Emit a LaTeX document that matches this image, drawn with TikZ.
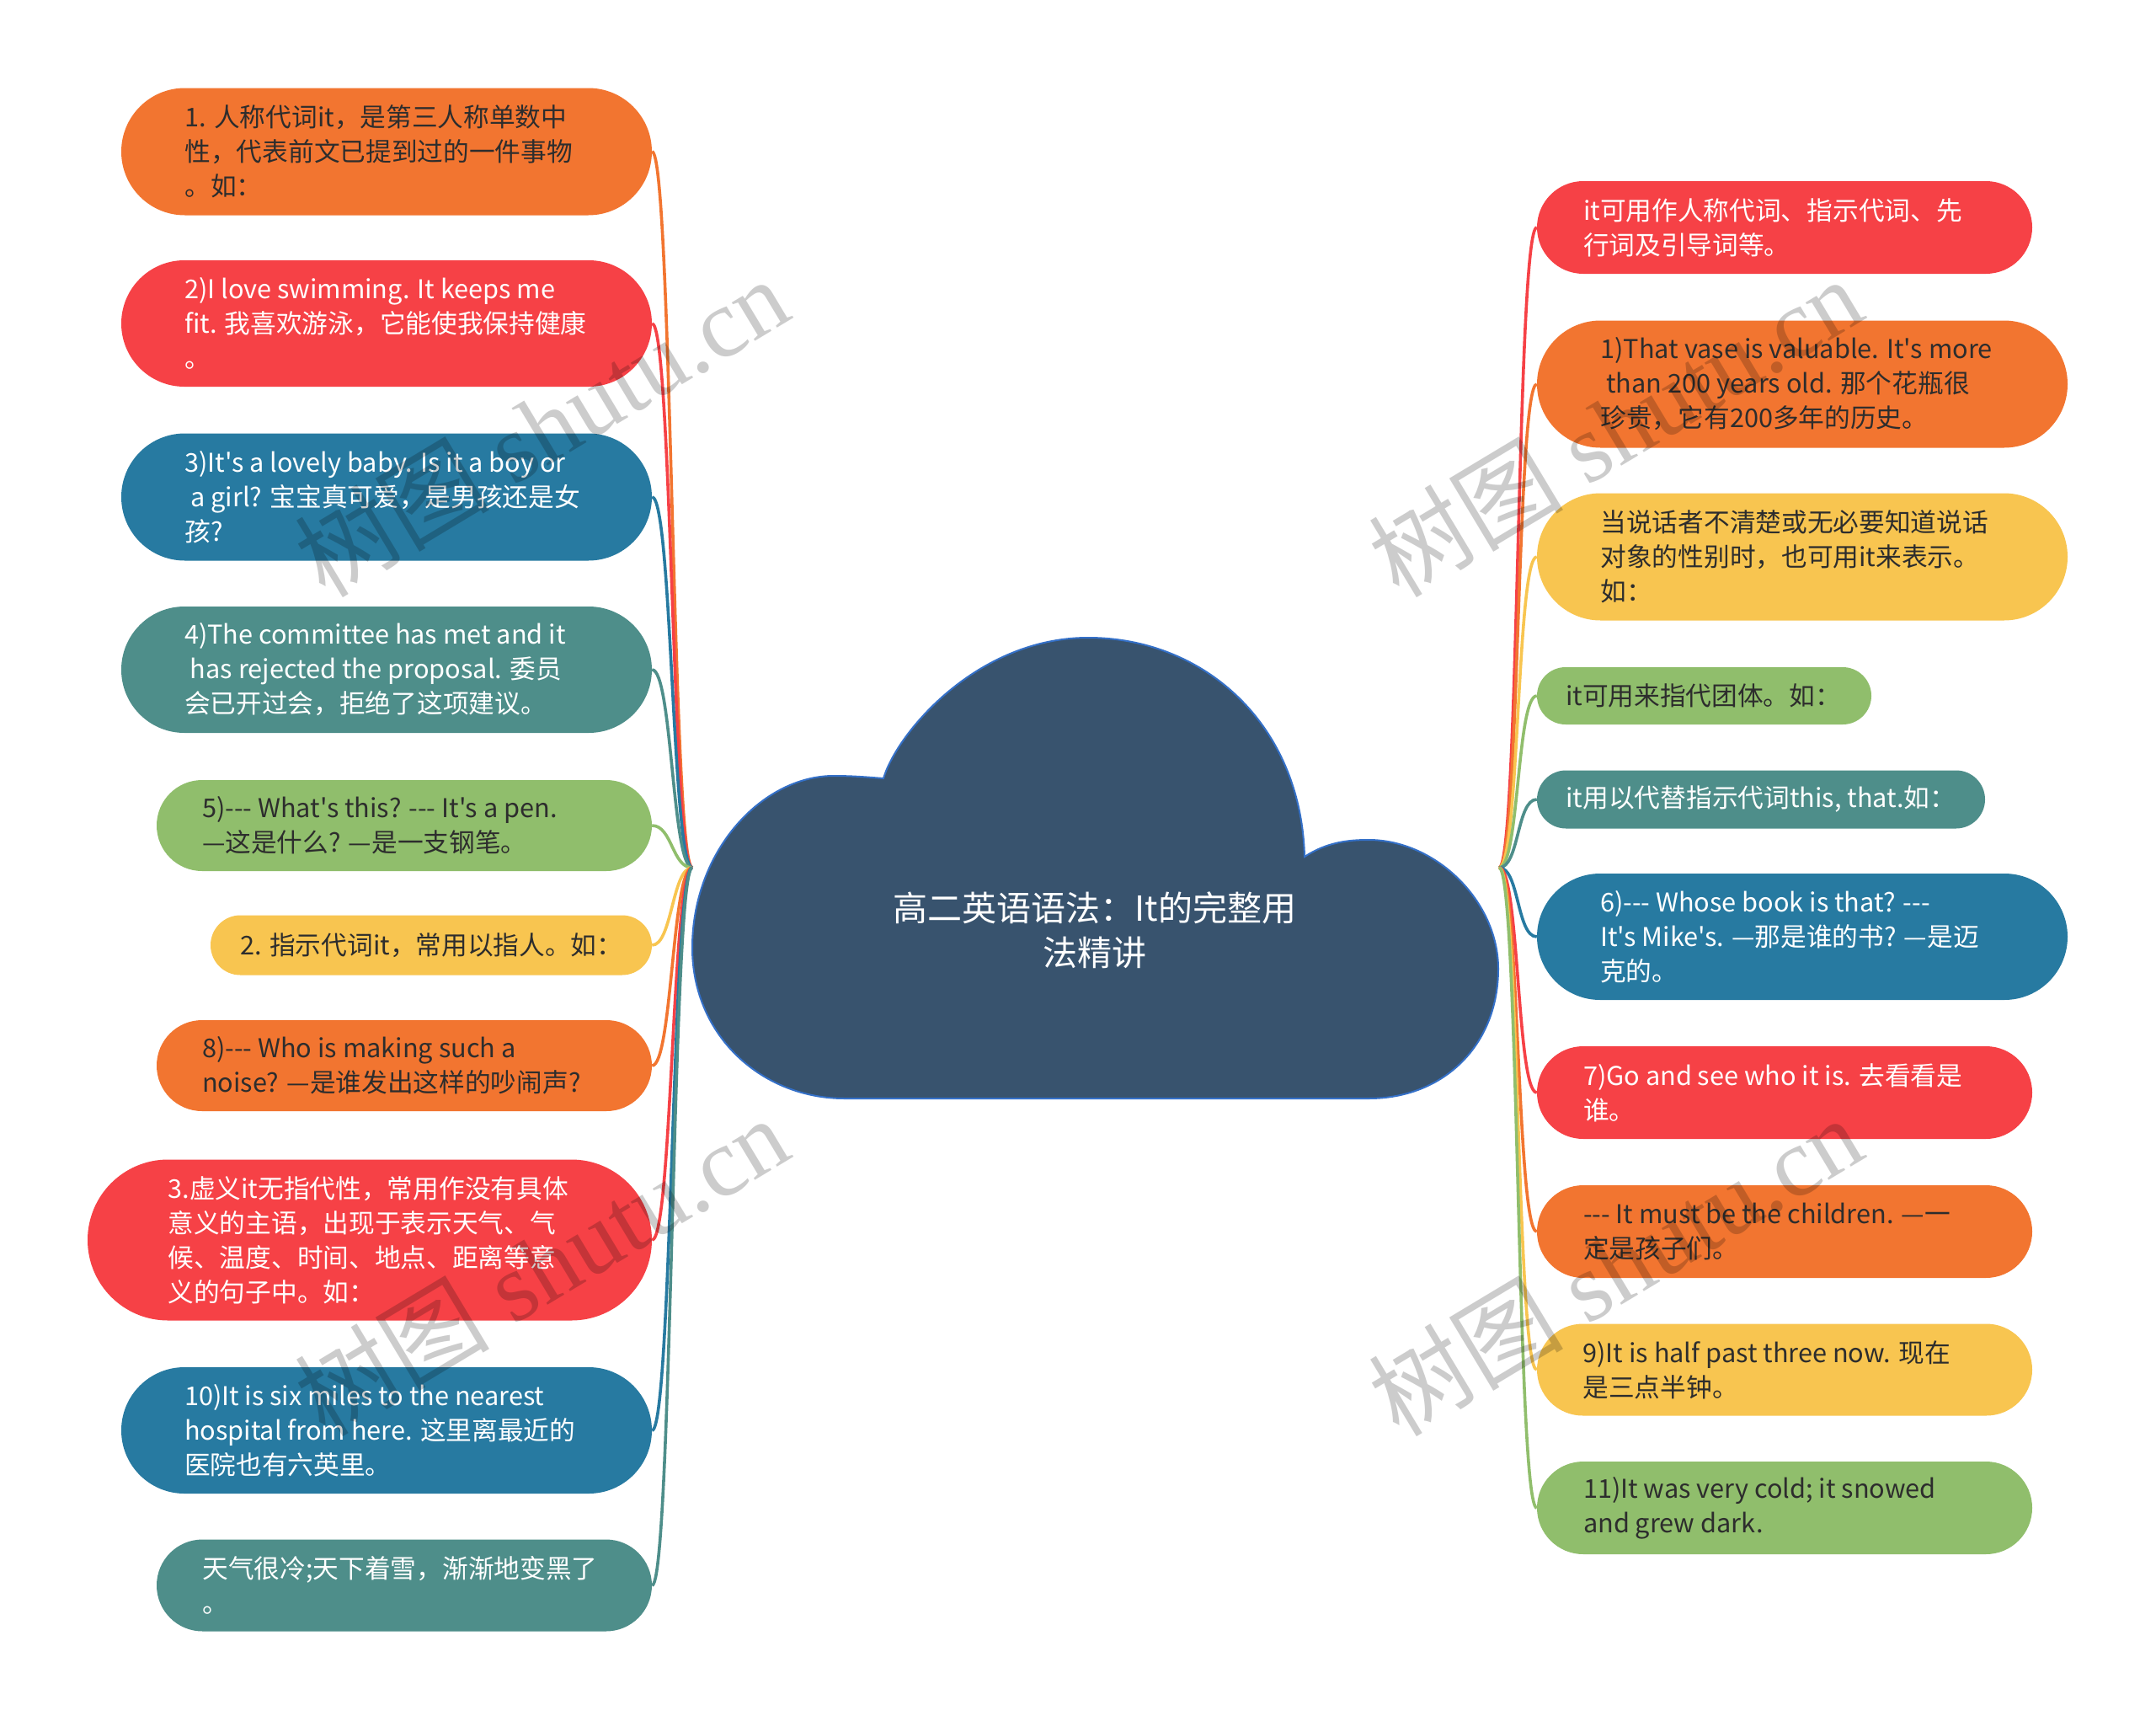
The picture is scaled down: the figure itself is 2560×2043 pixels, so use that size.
\documentclass[tikz,border=0pt]{standalone}
\usepackage{fontspec}
\setmainfont{Noto Sans CJK SC}[Ligatures=TeXOff]
\newfontfamily\wmserif{Liberation Serif}[Ligatures=TeXOff]
\usetikzlibrary{shapes.misc,backgrounds}
\definecolor{corange}{RGB}{242,117,48}
\definecolor{cred}{RGB}{246,65,70}
\definecolor{cblue}{RGB}{39,122,161}
\definecolor{cteal}{RGB}{78,142,138}
\definecolor{cgreen}{RGB}{144,190,108}
\definecolor{cyellow}{RGB}{248,197,80}
\definecolor{ccloud}{RGB}{56,83,110}
\definecolor{ccloudedge}{RGB}{52,112,200}
\definecolor{tdark}{RGB}{45,45,45}
\tikzset{
  mmbox/.style={shape=rounded rectangle, draw=none, inner sep=0pt},
  mmtext/.style={inner sep=0pt, align=left, font=\fontsize{30.7}{41}\selectfont},
  conn/.style={line width=3.6pt},
  wm/.style={text=black, text opacity=0.2, inner sep=0pt, anchor=base west, rotate=31,
             font=\fontsize{116}{116}\selectfont},
}
\newcommand\mmnode[8]{%
  \node[mmbox, fill=#6, minimum width=#4pt, minimum height=#5pt] (#1) at (#2,#3) {};
  \node[mmtext, text=#7, anchor=west] (#1t) at ([xshift=#5pt/2]#1.west) {#8};
}
\begin{document}
\begin{tikzpicture}[x=1pt,y=-1pt]
\useasboundingbox (0,0) rectangle (2560,2043);
\coordinate (cl) at (822,1030);
\coordinate (cr) at (1780,1030);

% cloud
\path[fill=ccloud, draw=ccloudedge, line width=2pt]
  (1049,924)
  .. controls (1065,870) and (1160,757) .. (1292,757)
  .. controls (1430,757) and (1545,860) .. (1549,1017)
  .. controls (1575,1000) and (1600,997) .. (1625,997)
  .. controls (1705,997) and (1779,1070) .. (1779,1150)
  .. controls (1779,1240) and (1715,1304) .. (1625,1304)
  -- (1003,1304)
  .. controls (905,1304) and (822,1230) .. (822,1125)
  .. controls (822,1010) and (905,921) .. (990,921)
  .. controls (1015,921) and (1035,923) .. (1049,924) -- cycle;
\node[text=white, align=center, inner sep=0pt, font=\fontsize{41}{53}\selectfont] (title) at (1300,1104) {高二英语语法：It的完整用\\法精讲};

% left nodes
\mmnode{L1}{459}{180}{630}{151}{corange}{tdark}{1. 人称代词it，是第三人称单数中\\性，代表前文已提到过的一件事物\\。如：}
\mmnode{L2}{459}{384}{630}{150}{cred}{white}{2)I love swimming. It keeps me\\fit. 我喜欢游泳，它能使我保持健康\\。}
\mmnode{L3}{459}{590}{630}{151}{cblue}{white}{3)It's a lovely baby. Is it a boy or\\\ a girl? 宝宝真可爱，是男孩还是女\\孩?}
\mmnode{L4}{459}{795}{630}{150}{cteal}{white}{4)The committee has met and it\\\ has rejected the proposal. 委员\\会已开过会，拒绝了这项建议。}
\mmnode{L5}{480}{980}{588}{108}{cgreen}{tdark}{5)--- What's this? --- It's a pen.\\—这是什么? —是一支钢笔。}
\mmnode{L6}{512}{1122}{524}{71}{cyellow}{tdark}{2. 指示代词it，常用以指人。如：}
\mmnode{L7}{480}{1265}{588}{108}{corange}{tdark}{8)--- Who is making such a\\noise? —是谁发出这样的吵闹声?}
\mmnode{L8}{439}{1472}{670}{191}{cred}{white}{3.虚义it无指代性，常用作没有具体\\意义的主语，出现于表示天气、气\\候、温度、时间、地点、距离等意\\义的句子中。如：}
\mmnode{L9}{459}{1698}{630}{150}{cblue}{white}{10)It is six miles to the nearest\\hospital from here. 这里离最近的\\医院也有六英里。}
\mmnode{L10}{480}{1882}{588}{109}{cteal}{white}{天气很冷;天下着雪，渐渐地变黑了\\。}

% right nodes
\mmnode{R1}{2119}{270}{588}{110}{cred}{white}{it可用作人称代词、指示代词、先\\行词及引导词等。}
\mmnode{R2}{2140}{456}{630}{151}{corange}{tdark}{1)That vase is valuable. It's more\\\ than 200 years old. 那个花瓶很\\珍贵，它有200多年的历史。}
\mmnode{R3}{2140}{661}{630}{151}{cyellow}{tdark}{当说话者不清楚或无必要知道说话\\对象的性别时，也可用it来表示。\\如：}
\mmnode{R4}{2023.5}{826}{397}{68}{cgreen}{tdark}{it可用来指代团体。如：}
\mmnode{R5}{2091}{949}{532}{69}{cteal}{white}{it用以代替指示代词this, that.如：}
\mmnode{R6}{2140}{1112}{630}{150}{cblue}{white}{6)--- Whose book is that? ---\\It's Mike's. —那是谁的书? —是迈\\克的。}
\mmnode{R7}{2119}{1297}{588}{110}{cred}{white}{7)Go and see who it is. 去看看是\\谁。}
\mmnode{R8}{2119}{1462}{588}{110}{corange}{tdark}{--- It must be the children. —一\\定是孩子们。}
\mmnode{R9}{2119}{1626}{588}{109}{cyellow}{tdark}{9)It is half past three now. 现在\\是三点半钟。}
\mmnode{R10}{2119}{1790}{588}{110}{cgreen}{tdark}{11)It was very cold; it snowed\\and grew dark.}

% connectors and background
\begin{scope}[on background layer]
\fill[white] (0,0) rectangle (2560,2043);
\foreach \n/\c in {L1/corange,L2/cred,L3/cblue,L4/cteal,L5/cgreen,L6/cyellow,L7/corange,L8/cred,L9/cblue,L10/cteal}
  \draw[conn, \c] (cl) .. controls +(-24,0) and +(24,0) .. (\n.east);
\foreach \n/\c in {R1/cred,R2/corange,R3/cyellow,R4/cgreen,R5/cteal,R6/cblue,R7/cred,R8/corange,R9/cyellow,R10/cgreen}
  \draw[conn, \c] (cr) .. controls +(24,0) and +(-24,0) .. (\n.west);
\end{scope}

% watermarks
\node[wm] (wm1) at (386,712) {树图{\wmserif\ shutu.cn}};
\node[wm] (wm2) at (1661,712) {树图{\wmserif\ shutu.cn}};
\node[wm] (wm3) at (386,1708) {树图{\wmserif\ shutu.cn}};
\node[wm] (wm4) at (1661,1708) {树图{\wmserif\ shutu.cn}};
\end{tikzpicture}
\end{document}
